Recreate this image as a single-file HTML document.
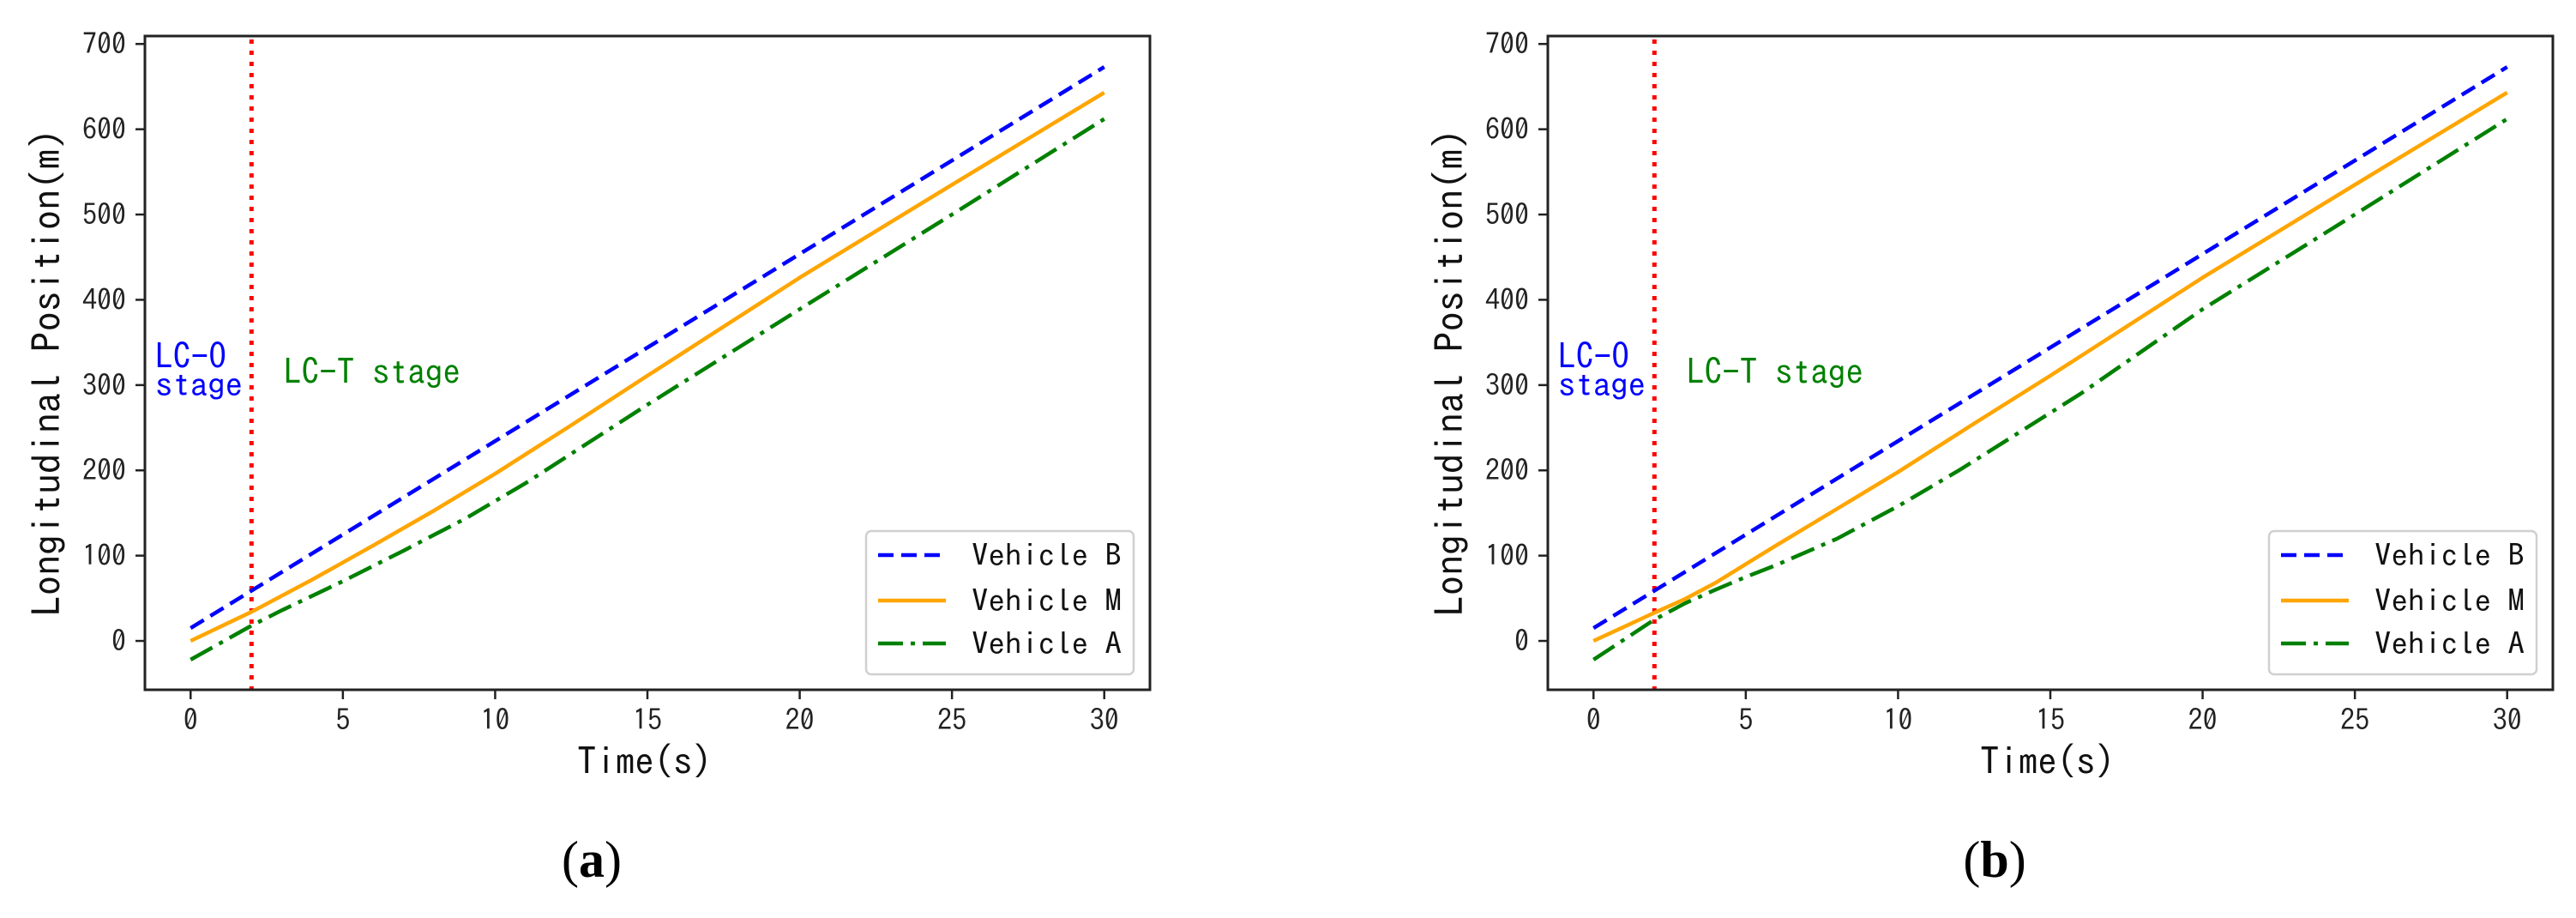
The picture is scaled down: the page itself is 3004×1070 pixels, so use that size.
<!DOCTYPE html>
<html><head><meta charset="utf-8"><style>
html,body{margin:0;padding:0;background:#fff;}
svg{display:block;}
</style></head><body>
<svg id="fig" width="3004" height="1070" viewBox="0 0 3004 1070" xmlns="http://www.w3.org/2000/svg"></svg>
<script>
// ---- data ----
const xTicks = [0, 5, 10, 15, 20, 25, 30];
const yTicks = [0, 100, 200, 300, 400, 500, 600, 700];
const stageBoundary = 2;
const seriesNames = ["Vehicle B", "Vehicle M", "Vehicle A"];
// panel (a)
const aTimeB = [0, 30];
const aValB = [15, 673];
const aTimeM = [0, 2, 4, 6, 8, 10, 12.5, 15, 20, 25, 30];
const aValM = [0, 34, 72, 112, 153, 196, 253, 311, 426, 535, 643];
const aTimeA = [0, 2, 3, 5, 7, 9, 11, 13, 15, 20, 25, 30];
const aValA = [-22, 18, 36, 70, 106, 143, 185, 231, 277, 389, 500, 612];
// panel (b)
const bTimeB = [0, 30];
const bValB = [15, 673];
const bTimeM = [0, 2, 3, 4, 5, 6, 8, 10, 12.5, 15, 20, 25, 30];
const bValM = [0, 33, 49, 68, 90, 112, 155, 198, 255, 311, 426, 535, 643];
const bTimeA = [0, 2, 3, 4, 5, 6, 8, 10, 12, 14, 16, 20, 25, 30];
const bValA = [-22, 25, 44, 60, 75, 89, 120, 158, 200, 245, 290, 389, 500, 612];

const NS = "http://www.w3.org/2000/svg";
const svg = document.getElementById("fig");
function mk(tag, attrs, parent){
  const e = document.createElementNS(NS, tag);
  for (const k in attrs) e.setAttribute(k, attrs[k]);
  (parent||svg).appendChild(e);
  return e;
}
const TXT = '"IPAGothic","Liberation Sans",sans-serif';

function panel(off, letter, tB, vB, tM, vM, tA, vA){
  const L = 169+off, R = 1341+off, T = 42, B = 804;
  const xmin = -1.5, xmax = 31.5, ymin = -57.3, ymax = 709.3;
  const sx = v => L + (v - xmin) / (xmax - xmin) * (R - L);
  const sy = v => B - (v - ymin) / (ymax - ymin) * (B - T);
  const g = mk("g", {});
  
  

  xTicks.forEach(t => {
    const tk = mk("line", {x1:sx(t), x2:sx(t), y1:B, y2:B+11, stroke:"#222", "stroke-width":2.5}, g);
    
    
    const lb = mk("text", {x:sx(t), y:851, "text-anchor":"middle", "font-size":34, "font-family":TXT, fill:"#222"}, g);
    lb.textContent = t;
    
    
  });
  yTicks.forEach(t => {
    const tk = mk("line", {x1:L-11, x2:L, y1:sy(t), y2:sy(t), stroke:"#222", "stroke-width":2.5}, g);
    
    
    const lb = mk("text", {x:L-22, y:sy(t)+12, "text-anchor":"end", "font-size":34, "font-family":TXT, fill:"#222"}, g);
    lb.textContent = t;
    
    
  });

  const vl = mk("line", {x1:sx(stageBoundary), x2:sx(stageBoundary), y1:T+4, y2:B, stroke:"#ff0000", "stroke-width":5, "stroke-dasharray":"5 8"}, g);
  
  

  function series(ts, vs, color, dash, name){
    const pts = ts.map((t,i) => sx(t).toFixed(1) + "," + sy(vs[i]).toFixed(1)).join(" ");
    const a = {points:pts, fill:"none", stroke:color, "stroke-width":4.5, "stroke-linejoin":"round"};
    if (dash) a["stroke-dasharray"] = dash;
    const p = mk("polyline", a, g);
    
    
  }
  series(tB, vB, "#0000ff", "18 9", "series-vehicle-b");
  series(tM, vM, "#ffa500", null, "series-vehicle-m");
  series(tA, vA, "#008000", "29 9 5 9", "series-vehicle-a");

  const t1 = mk("text", {x:181+off, y:430, "font-size":41, "font-family":TXT, fill:"#0000ff", textLength:83, lengthAdjust:"spacingAndGlyphs"}, g);
  t1.textContent = "LC-O";
  
  
  const t2 = mk("text", {x:181+off, y:462, "font-size":38, "font-family":TXT, fill:"#0000ff", textLength:102, lengthAdjust:"spacingAndGlyphs"}, g);
  t2.textContent = "stage";
  
  
  const t3 = mk("text", {x:331+off, y:448, "font-size":41, "font-family":TXT, fill:"#008000", textLength:206, lengthAdjust:"spacingAndGlyphs"}, g);
  t3.textContent = "LC-T stage";
  
  

  const fr = mk("rect", {x:L, y:T, width:R-L, height:B-T, fill:"none", stroke:"#222", "stroke-width":3}, g);
  
  

  const lg = mk("g", {}, g);
  
  
  mk("rect", {x:1010+off, y:619, width:312, height:167, rx:6, fill:"#fff", "fill-opacity":0.85, stroke:"#d0d0d0", "stroke-width":2.5}, lg);
  const ly = [647, 700, 750];
  const lc = ["#0000ff", "#ffa500", "#008000"];
  const ld = ["18 9", null, "29 9 5 9"];
  seriesNames.forEach((n,i) => {
    const a = {x1:1024+off, x2:1103+off, y1:ly[i], y2:ly[i], stroke:lc[i], "stroke-width":4.5};
    if (ld[i]) a["stroke-dasharray"] = ld[i];
    const ln = mk("line", a, lg);
    
    
    const tx = mk("text", {x:1133+off, y:ly[i]+13, "font-size":36, "font-family":TXT, fill:"#111", textLength:175, lengthAdjust:"spacingAndGlyphs"}, lg);
    tx.textContent = n;
    
    
  });

  const yl = mk("text", {x:0, y:0, transform:"translate(" + (71+off) + ",434) rotate(-90)", "text-anchor":"middle", "font-size":46, "font-family":TXT, fill:"#111", textLength:568, lengthAdjust:"spacingAndGlyphs"}, g);
  yl.textContent = "Longitudinal Position(m)";
  
  
  const xl = mk("text", {x:673+off, y:903, "font-size":44, "font-family":TXT, fill:"#111", textLength:157, lengthAdjust:"spacingAndGlyphs"}, g);
  xl.textContent = "Time(s)";
  
  

  const cp = mk("text", {x:690+off, y:1022, "text-anchor":"middle", "font-size":60, "font-family":'"Liberation Serif",serif', fill:"#000"}, g);
  
  
  const p1 = mk("tspan", {}, cp); p1.textContent = "(";
  const p2 = mk("tspan", {"font-weight":"bold"}, cp); p2.textContent = letter;
  const p3 = mk("tspan", {}, cp); p3.textContent = ")";
}
panel(0, "a", aTimeB, aValB, aTimeM, aValM, aTimeA, aValA);
panel(1636, "b", bTimeB, bValB, bTimeM, bValM, bTimeA, bValA);
</script>
</body></html>
